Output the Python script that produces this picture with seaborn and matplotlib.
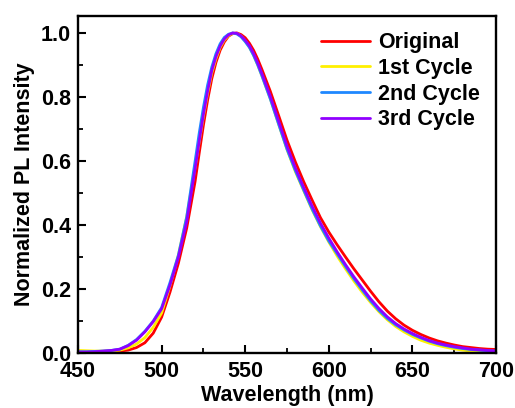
import numpy as np
import pandas as pd
import matplotlib
matplotlib.use("Agg")
import matplotlib.pyplot as plt
from matplotlib.ticker import MultipleLocator, FormatStrFormatter
import seaborn as sns

wavelength = [450, 455, 460, 465, 470, 475, 480, 485, 490, 495,
              500, 505, 510, 515, 520, 522.5, 525, 527.5, 530, 532.5,
              535, 537.5, 540, 542.5, 545, 547.5, 550, 552.5, 555, 557.5,
              560, 565, 570, 575, 580, 585, 590, 595, 600, 605,
              610, 615, 620, 625, 630, 635, 640, 645, 650, 655,
              660, 665, 670, 675, 680, 685, 690, 695, 700]

original = [0.000, 0.001, 0.001, 0.002, 0.004, 0.006, 0.009, 0.017, 0.032, 0.062,
            0.112, 0.190, 0.280, 0.390, 0.535, 0.625, 0.712, 0.790, 0.857, 0.908,
            0.946, 0.972, 0.990, 0.998, 1.000, 0.995, 0.985, 0.968, 0.946, 0.918,
            0.886, 0.818, 0.742, 0.665, 0.597, 0.535, 0.478, 0.423, 0.378, 0.338,
            0.300, 0.263, 0.228, 0.193, 0.160, 0.131, 0.107, 0.087, 0.071, 0.058,
            0.047, 0.038, 0.031, 0.025, 0.020, 0.017, 0.014, 0.012, 0.011]

cycle1 = [0.008, 0.007, 0.006, 0.006, 0.007, 0.009, 0.016, 0.028, 0.048, 0.080,
          0.125, 0.210, 0.305, 0.425, 0.580, 0.660, 0.740, 0.812, 0.875, 0.920,
          0.955, 0.978, 0.992, 0.999, 0.999, 0.990, 0.975, 0.956, 0.931, 0.900,
          0.866, 0.795, 0.715, 0.636, 0.567, 0.507, 0.448, 0.395, 0.347, 0.303,
          0.263, 0.225, 0.190, 0.158, 0.129, 0.104, 0.083, 0.066, 0.052, 0.040,
          0.031, 0.024, 0.018, 0.013, 0.009, 0.006, 0.004, 0.002, 0.001]

cycle2 = [0.004, 0.004, 0.005, 0.006, 0.008, 0.012, 0.024, 0.042, 0.068, 0.100,
          0.142, 0.220, 0.305, 0.425, 0.598, 0.687, 0.767, 0.837, 0.893, 0.935,
          0.966, 0.986, 0.996, 1.000, 0.997, 0.988, 0.973, 0.955, 0.930, 0.900,
          0.866, 0.794, 0.715, 0.637, 0.570, 0.509, 0.450, 0.397, 0.350, 0.310,
          0.270, 0.232, 0.197, 0.163, 0.133, 0.108, 0.088, 0.072, 0.058, 0.047,
          0.037, 0.029, 0.023, 0.018, 0.014, 0.011, 0.009, 0.007, 0.006]

cycle3 = [0.003, 0.003, 0.004, 0.006, 0.008, 0.012, 0.023, 0.040, 0.066, 0.098,
          0.138, 0.212, 0.298, 0.410, 0.575, 0.662, 0.745, 0.818, 0.882, 0.926,
          0.959, 0.981, 0.994, 1.000, 0.999, 0.991, 0.977, 0.960, 0.936, 0.906,
          0.873, 0.802, 0.724, 0.646, 0.578, 0.517, 0.459, 0.406, 0.359, 0.316,
          0.276, 0.238, 0.203, 0.169, 0.139, 0.113, 0.092, 0.075, 0.061, 0.049,
          0.039, 0.031, 0.025, 0.020, 0.016, 0.012, 0.010, 0.008, 0.006]

labels = ["Original", "1st Cycle", "2nd Cycle", "3rd Cycle"]
colors = ["#FF0000", "#FFF000", "#1E88FF", "#9000FF"]

frames = []
for lab, vals in zip(labels, [original, cycle1, cycle2, cycle3]):
    frames.append(pd.DataFrame({"Wavelength": wavelength, "Intensity": vals, "Sample": lab}))
df = pd.concat(frames, ignore_index=True)

sns.set_style("ticks")
plt.rcParams["font.family"] = ["Liberation Sans", "DejaVu Sans"]
plt.rcParams["font.weight"] = "bold"
plt.rcParams["text.color"] = "black"
plt.rcParams["axes.labelcolor"] = "black"
plt.rcParams["xtick.color"] = "black"
plt.rcParams["ytick.color"] = "black"
plt.rcParams["axes.edgecolor"] = "black"

FS = 15.5

fig = plt.figure(figsize=(5.15, 4.08), dpi=100)
ax = fig.add_axes([78 / 515, 55 / 408, 418 / 515, 337 / 408])

sns.lineplot(data=df, x="Wavelength", y="Intensity", hue="Sample",
             hue_order=labels, palette=dict(zip(labels, colors)),
             linewidth=2.0, ax=ax, legend=True)

ax.set_xlim(450, 700)
ax.set_ylim(0, 1.053)
ax.xaxis.set_major_locator(MultipleLocator(50))
ax.xaxis.set_minor_locator(MultipleLocator(25))
ax.yaxis.set_major_locator(MultipleLocator(0.2))
ax.yaxis.set_minor_locator(MultipleLocator(0.1))
ax.yaxis.set_major_formatter(FormatStrFormatter("%.1f"))

for s in ax.spines.values():
    s.set_linewidth(1.7)
    s.set_color("black")
ax.tick_params(axis="both", which="major", direction="in", length=6, width=1.5,
               labelsize=FS, colors="black", top=False, right=False)
ax.tick_params(axis="x", which="major", pad=6)
ax.tick_params(axis="y", which="major", pad=5)
ax.tick_params(axis="both", which="minor", direction="in", length=3.5, width=1.3,
               colors="black", top=False, right=False)
for t in ax.get_xticklabels() + ax.get_yticklabels():
    t.set_fontweight("bold")
    t.set_color("black")

ax.set_xlabel("Wavelength (nm)", fontsize=FS, fontweight="bold", labelpad=2, color="black")
ax.set_ylabel("Normalized PL Intensity", fontsize=FS, fontweight="bold", labelpad=4, color="black")

leg = ax.legend(loc="upper right", frameon=False, handlelength=2.3,
                handletextpad=0.35, labelspacing=0.22, borderaxespad=0.35,
                prop={"weight": "bold", "size": FS})
for line in leg.get_lines():
    line.set_linewidth(2.0)
for t in leg.get_texts():
    t.set_color("black")

fig.savefig("out.png", dpi=100)
